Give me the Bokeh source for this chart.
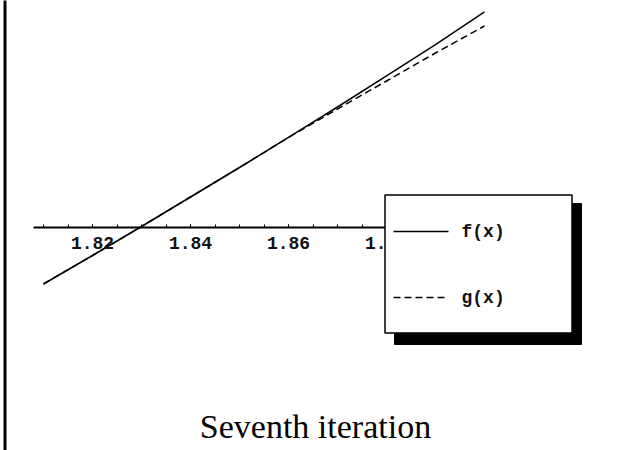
from bokeh.plotting import figure
from bokeh.models import LinearAxis, FixedTicker, Range1d
from bokeh.core.properties import value
from bokeh.embed import file_html
from bokeh.resources import INLINE

# Sample points of the two curves near the root
x_vals = [1.81, 1.82, 1.83, 1.84, 1.85, 1.86, 1.87, 1.88, 1.89, 1.90]
f_vals = [-0.01163, -0.00582, 0.00010, 0.00612, 0.01214, 0.01827, 0.02449, 0.03082, 0.03724, 0.04388]
g_vals = [-0.01163, -0.00582, 0.00010, 0.00612, 0.01214, 0.01827, 0.02408, 0.02980, 0.03551, 0.04102]

major_ticks = [1.82, 1.84, 1.86, 1.88]
minor_ticks = [1.81, 1.815, 1.82, 1.825, 1.83, 1.835, 1.84, 1.845, 1.85, 1.855,
               1.86, 1.865, 1.87, 1.875, 1.88, 1.885, 1.89, 1.895, 1.90]
legend_labels = ["f(x)", "g(x)"]
caption = "Seventh iteration"

W, H = 623, 450
SCALE = 4900.0                     # pixels per data unit on both axes
X0 = 1.82 - 92 / SCALE             # data x at the left edge
Y_TOP = 226.5 / SCALE              # data y at the top edge


def sx(px):
    return X0 + px / SCALE


def sy(py):
    return Y_TOP - py / SCALE


p = figure(width=W, height=H, output_backend="svg", toolbar_location=None,
           x_axis_type=None, y_axis_type=None,
           x_range=Range1d(X0, X0 + W / SCALE), y_range=Range1d(Y_TOP - H / SCALE, Y_TOP),
           min_border=0, outline_line_color=None, background_fill_color="white",
           border_fill_color="white")

# horizontal axis through y = 0
ax = LinearAxis(fixed_location=0, bounds=(1.808, 1.902),
                ticker=FixedTicker(ticks=major_ticks, minor_ticks=minor_ticks))
ax.axis_line_width = 2
ax.axis_line_color = "black"
ax.major_tick_in = 3
ax.major_tick_out = 0
ax.minor_tick_in = 3
ax.minor_tick_out = 0
ax.major_tick_line_color = "black"
ax.minor_tick_line_color = "black"
ax.major_label_text_font = "Liberation Mono"
ax.major_label_text_font_size = "18px"
ax.major_label_text_font_style = "bold"
ax.major_label_text_color = "#111111"
ax.major_label_standoff = 10
p.add_layout(ax, "below")

# curves
p.line(x_vals, f_vals, line_color="black", line_width=1.5)
p.line(x_vals, g_vals, line_color="black", line_width=1.5, line_dash="7 4")

# legend box with drop shadow
p.quad(left=[sx(394)], right=[sx(581)], top=[sy(203)], bottom=[sy(344)],
       fill_color="black", line_color="black", level="overlay")
p.quad(left=[sx(384.5)], right=[sx(571.5)], top=[sy(194.5)], bottom=[sy(332.5)],
       fill_color="white", line_color="black", line_width=1.5, level="overlay")
p.line([sx(393), sx(448)], [sy(231), sy(231)], line_color="black", line_width=1.5,
       level="overlay")
p.line([sx(393), sx(446)], [sy(297), sy(297)], line_color="black", line_width=1.5,
       line_dash="7 4", level="overlay")
p.text(x=[sx(461), sx(461)], y=[sy(231), sy(297)], text=legend_labels,
       text_font=value("Liberation Mono"), text_font_size="18px", text_font_style="bold",
       text_baseline="middle", text_align="left", text_color="#111111", level="overlay")

# caption
p.text(x=[sx(315)], y=[sy(426)], text=[caption], text_font=value("Liberation Serif"),
       text_font_size="34px", text_align="center", text_baseline="alphabetic",
       text_color="black", level="overlay")

# left frame edge
p.segment(x0=[sx(4.5)], y0=[sy(0)], x1=[sx(4.5)], y1=[sy(H)], line_color="black",
          line_width=3, level="overlay")

open("out.html", "w").write(file_html(p, INLINE))
